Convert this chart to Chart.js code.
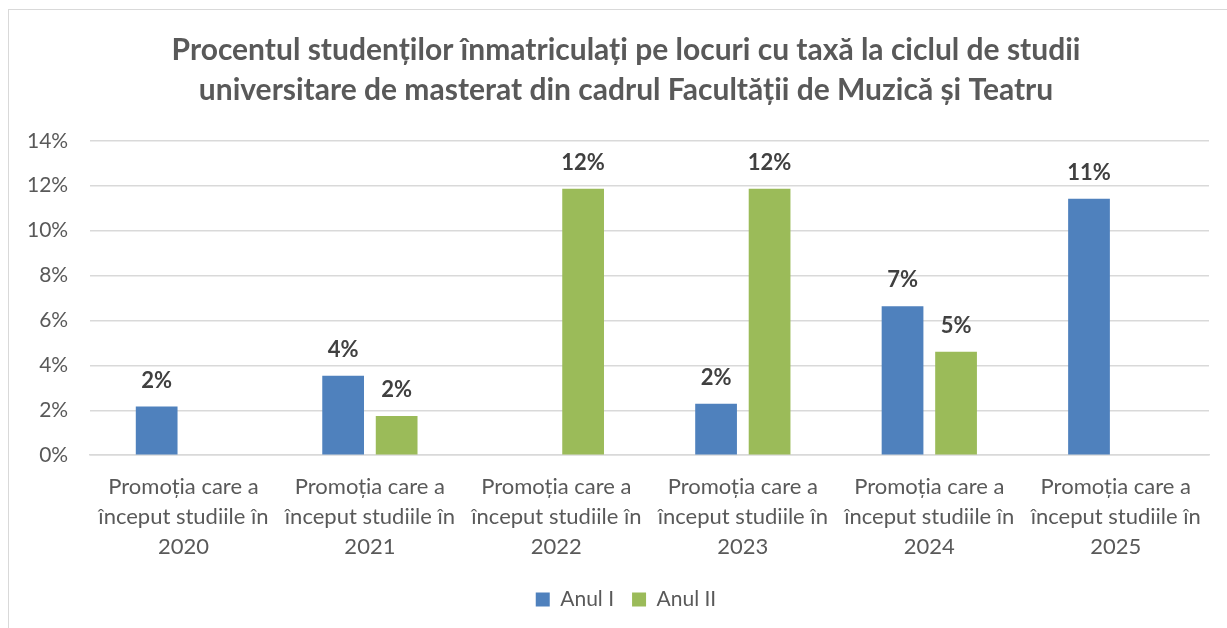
<!DOCTYPE html>
<html>
<head>
<meta charset="utf-8">
<script src="https://cdn.jsdelivr.net/npm/chart.js@4"></script>
<style>
  body { margin: 0; background: #fff; }
  #wrap { position: relative; width: 1227px; height: 628px; overflow: hidden; }
  #frame { position: absolute; left: 8px; top: 9px; width: 1300px; height: 700px; border-left: 1px solid #d9d9d9; border-top: 1px solid #d9d9d9; }
  #graph { position: absolute; left: 0; top: 0; }
</style>
</head>
<body>
<div id="wrap">
  <div id="frame"></div>
  <canvas id="graph" width="1227" height="628"></canvas>
</div>
<script>
const categories = ["2020", "2021", "2022", "2023", "2024", "2025"]
const anulI = [0.0217, 0.0354, null, 0.0229, 0.0663, 0.1142]
const anulII = [null, 0.0175, 0.1187, 0.1187, 0.0461, null]
const seriesNames = ["Anul I", "Anul II"]
const titleLines = [
  "Procentul studenților înmatriculați pe locuri cu taxă la ciclul de studii",
  "universitare de masterat din cadrul Facultății de Muzică și Teatru"
]

const font = "Lato, 'Open Sans', sans-serif"
const toPercent = v => Math.round(v * 100) + "%"

// bar value labels above each bar
const barLabels = {
  id: "barLabels",
  afterDatasetsDraw(chart) {
    const c = chart.ctx
    c.save()
    c.font = `bold 22px ${font}`
    c.fillStyle = "#404040"
    c.textAlign = "center"
    c.textBaseline = "middle"
    chart.data.datasets.forEach((ds, i) => {
      chart.getDatasetMeta(i).data.forEach((bar, j) => {
        const v = ds.data[j]
        if (v === null) return
        c.fillText(toPercent(v), bar.x, bar.y - 26)
      })
    })
    c.restore()
  }
}

// the original chart is cropped on the right, so title and legend sit a bit right of centre
const shiftBlocks = {
  id: "shiftBlocks",
  afterLayout(chart) {
    const dx = 19
    ;[chart.titleBlock, chart.legend].forEach(b => {
      if (!b) return
      b.left += dx
      b.right += dx
    })
  }
}

const ctx = document.getElementById("graph").getContext("2d")

new Chart(ctx, {
  type: "bar",
  data: {
    labels: categories.map(y => ["Promoția care a", "început studiile în", y]),
    datasets: [
      { label: seriesNames[0], data: anulI, backgroundColor: "#4f81bd" },
      { label: seriesNames[1], data: anulII, backgroundColor: "#9bbb59" }
    ]
  },
  options: {
    responsive: false,
    animation: false,
    categoryPercentage: 0.574,
    barPercentage: 0.78,
    layout: { padding: { left: 5, right: 18, top: 10, bottom: 8 } },
    plugins: {
      title: {
        display: true,
        text: titleLines,
        color: "#595959",
        font: { family: font, size: 30, weight: "bold", lineHeight: 1.33 },
        padding: { top: 20, bottom: 31 }
      },
      legend: {
        position: "bottom",
        labels: {
          color: "#595959",
          font: { family: font, size: 21 },
          boxWidth: 14,
          boxHeight: 14,
          padding: 18
        }
      },
      tooltip: { enabled: false }
    },
    scales: {
      x: {
        grid: { display: false },
        border: { color: "#d9d9d9", width: 1.5 },
        ticks: {
          color: "#595959",
          font: { family: font, size: 22, lineHeight: 1.36 },
          maxRotation: 0,
          autoSkip: false,
          padding: 9
        }
      },
      y: {
        min: 0,
        max: 0.14,
        border: { display: false },
        grid: { color: "#d9d9d9", lineWidth: 1.5, drawTicks: false },
        ticks: {
          stepSize: 0.02,
          color: "#595959",
          font: { family: font, size: 21 },
          padding: 22,
          callback: v => toPercent(v)
        }
      }
    }
  },
  plugins: [barLabels, shiftBlocks]
})
</script>
</body>
</html>
